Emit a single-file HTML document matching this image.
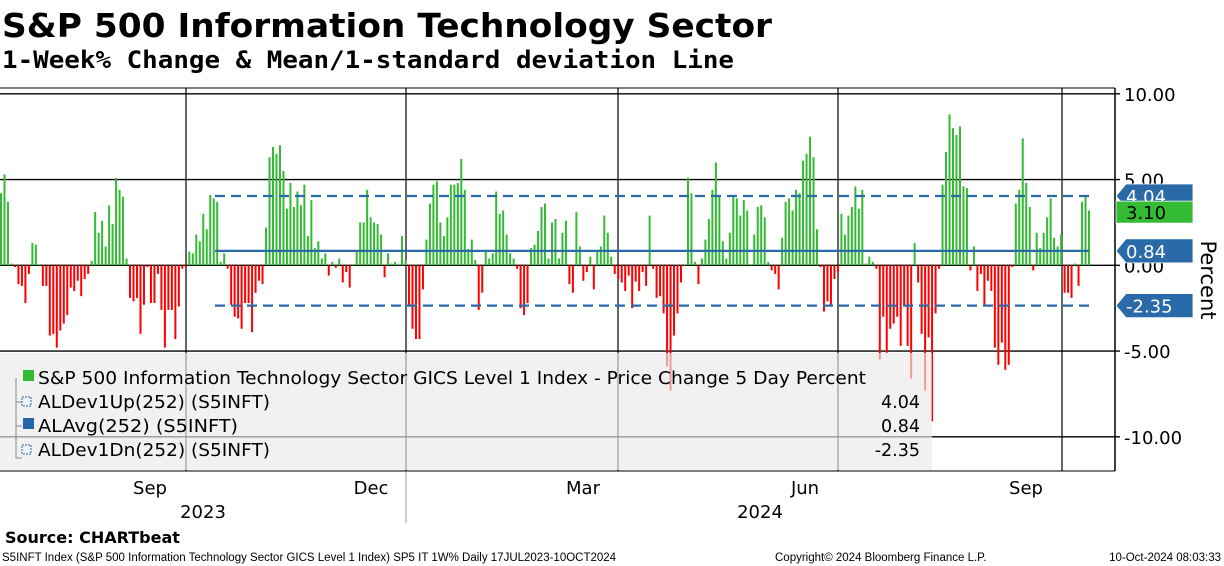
<!DOCTYPE html>
<html><head><meta charset="utf-8"><style>
html,body{margin:0;padding:0;background:#fff;}
svg{display:block;font-family:"DejaVu Sans","Liberation Sans",sans-serif;}
</style></head><body>
<svg id="chart" width="1224" height="566" viewBox="0 0 1224 566" xmlns="http://www.w3.org/2000/svg">
<text x="2" y="37" font-family="DejaVu Sans, sans-serif" font-weight="bold" font-size="33" textLength="770" lengthAdjust="spacingAndGlyphs">S&amp;P 500 Information Technology Sector</text>
<text x="2" y="68" font-family="DejaVu Sans Mono, monospace" font-weight="bold" font-size="24" textLength="732" lengthAdjust="spacingAndGlyphs">1-Week% Change &amp; Mean/1-standard deviation Line</text>
<g id="grid"></g>
<g id="bars"></g>
<g id="legend">
  <rect x="0" y="353" width="932" height="117" fill="#e9e9e9" fill-opacity="0.65"/>
  <rect x="23" y="370" width="11" height="11" fill="#33bb33"/>
  <text x="38" y="384" font-size="17.5" textLength="828" lengthAdjust="spacingAndGlyphs">S&amp;P 500 Information Technology Sector GICS Level 1 Index - Price Change 5 Day Percent</text>
  <text x="38" y="408" font-size="17.5" textLength="232" lengthAdjust="spacingAndGlyphs">ALDev1Up(252) (S5INFT)</text>
  <text x="920" y="408" font-size="17.5" text-anchor="end">4.04</text>
  <rect x="23" y="418" width="11" height="11" fill="#2266aa"/>
  <text x="38" y="432" font-size="17.5" textLength="200" lengthAdjust="spacingAndGlyphs">ALAvg(252) (S5INFT)</text>
  <text x="920" y="432" font-size="17.5" text-anchor="end">0.84</text>
  <text x="38" y="456" font-size="17.5" textLength="232" lengthAdjust="spacingAndGlyphs">ALDev1Dn(252) (S5INFT)</text>
  <text x="920" y="456" font-size="17.5" text-anchor="end">-2.35</text>
  <path d="M16 378 V458 H22 M16 402 H22 M16 426 H22" stroke="#888" fill="none" stroke-width="1"/>
  <rect x="22" y="397" width="9" height="9" fill="none" stroke="#2266aa" stroke-dasharray="2,1"/>
  <rect x="22" y="445" width="9" height="9" fill="none" stroke="#2266aa" stroke-dasharray="2,1"/>
</g>
<g id="axis"></g>
<g id="xaxis" font-size="18">
  <text x="150" y="494" text-anchor="middle">Sep</text>
  <text x="371" y="494" text-anchor="middle">Dec</text>
  <text x="583" y="494" text-anchor="middle">Mar</text>
  <text x="805" y="494" text-anchor="middle">Jun</text>
  <text x="1026" y="494" text-anchor="middle">Sep</text>
  <text x="203" y="518" text-anchor="middle">2023</text>
  <text x="760" y="518" text-anchor="middle">2024</text>
  <line x1="406" y1="472" x2="406" y2="523" stroke="#999"/>
</g>
<text transform="translate(1201,280) rotate(90)" font-size="21" text-anchor="middle">Percent</text>
<text x="5" y="543" font-family="DejaVu Sans, sans-serif" font-weight="bold" font-size="16">Source: CHARTbeat</text>
<text x="2" y="561" font-family="Liberation Sans, sans-serif" font-size="11.5">S5INFT Index (S&amp;P 500 Information Technology Sector GICS Level 1 Index) SP5 IT 1W%  Daily 17JUL2023-10OCT2024</text>
<text x="775" y="561" font-family="Liberation Sans, sans-serif" font-size="11.5">Copyright© 2024 Bloomberg Finance L.P.</text>
<text x="1221" y="561" font-family="Liberation Sans, sans-serif" font-size="11.5" text-anchor="end">10-Oct-2024 08:03:33</text>
</svg>
<script>
const weeklyChange = [4.2,5.3,3.7,0.1,-0.1,-1.1,-1.2,-2.2,-0.5,1.3,1.2,0.05,-1.2,-1.2,-4.1,-4.0,-4.8,-3.8,-3.4,-2.9,-1.3,-1.5,-0.9,-1.8,-0.8,-0.5,0.25,3.1,1.9,2.6,1.1,3.5,2.4,5.1,4.4,4.0,0.4,-1.9,-2.1,-1.9,-4.0,-2.3,-0.1,-2.2,-2.2,-0.5,-2.6,-4.8,-2.6,-2.6,-4.3,-2.4,-0.2,-0.1,
0.8,0.7,1.8,1.4,3.0,2.1,4.1,3.9,3.7,0.2,0.7,-0.2,-2.3,-3.0,-3.1,-3.7,-2.2,-2.2,-3.9,-1.6,-0.9,-1.1,2.2,6.3,6.9,6.5,7.0,5.5,3.3,4.8,3.4,4.3,3.5,4.7,1.7,3.8,1.0,1.4,0.4,0.7,-0.6,0.2,-0.15,0.4,-1.0,-0.4,-1.3,0,0.8,2.5,2.5,4.4,
2.8,2.5,2.4,1.8,-0.7,0.7,0.1,0.2,0,1.7,0.3,-2.4,-3.7,-4.3,-4.3,-1.4,1.5,3.6,4.7,4.9,2.5,1.7,2.8,4.7,4.7,4.8,6.2,4.4,0.95,1.5,0.3,-2.6,-1.6,0.8,0.4,0.7,4.3,3.0,3.2,1.8,0.7,0.4,-0.2,-2.5,-2.9,-2.2,1.0,1.2,2.0,3.4,3.6,0.4,2.5,2.7,
0.4,1.9,2.6,-1.1,-1.6,3.1,1.1,-0.9,-0.4,0.5,-1.4,0.8,1.1,2.9,1.9,0.5,-0.5,-0.8,-1.0,-1.5,-0.6,-2.5,-0.95,-1.5,-0.4,-1.2,2.9,-0.2,-1.9,-1.8,-2.8,-5.9,-7.3,-4.1,-2.8,-1.0,0,5.1,4.2,0.2,-1.1,0.4,1.5,2.7,4.4,6.0,4.0,1.4,0.4,1.9,4.0,3.9,2.9,
3.8,3.2,0,1.8,3.4,3.5,2.8,0.2,-0.3,-0.5,-1.4,1.6,3.7,3.9,3.2,4.4,4.2,6.1,6.5,7.5,6.3,2.1,-0.1,-2.7,-2.1,-2.3,-0.8,-0.4,3.0,1.8,2.9,3.4,4.6,3.3,4.4,0.1,0.5,0.2,-0.2,-5.5,-3.0,-5.1,-3.7,-3.4,-3.0,-4.7,-2.4,-4.7,-6.6,1.3,-1.0,-4.0,-7.3,
-4.2,-9.1,-2.8,-0.2,4.7,6.6,8.8,8.0,7.6,8.1,4.6,4.5,-0.3,1.1,-1.5,-0.5,-2.3,-0.9,-1.5,-4.8,-5.8,-4.5,-6.1,-5.8,-0.1,3.6,4.4,7.4,4.8,3.4,-0.3,1.9,1.0,1.9,2.8,3.9,1.6,1.1,1.8,-1.6,-1.6,-1.9,0.1,-1.2,3.7,4.0,3.2];
const yTicks = [10, 5, 0, -5, -10];
const yTickLabels = ["10.00","5.00","0.00","-5.00","-10.00"];
const devUp = 4.04, avgLine = 0.84, devDn = -2.35, lastValue = 3.10;

const NS = "http://www.w3.org/2000/svg";
const X0 = 1, X1 = 1089;
const y = v => 265.3 - v * 17.15;
const x = i => X0 + i * (X1 - X0) / (weeklyChange.length - 1);
function mk(tag, attrs, parent) { const e = document.createElementNS(NS, tag); for (const k in attrs) e.setAttribute(k, attrs[k]); parent.appendChild(e); return e; }

const grid = document.getElementById('grid');
mk('line', {x1:0,y1:88,x2:1115,y2:88,stroke:'#000','stroke-width':1}, grid);
mk('line', {x1:0,y1:471,x2:1115,y2:471,stroke:'#555','stroke-width':1.5}, grid);
mk('line', {x1:1115,y1:88,x2:1115,y2:471,stroke:'#000','stroke-width':1.5}, grid);
yTicks.forEach(t => {
  const l = mk('line', {x1:0,y1:y(t),x2:1120,y2:y(t),stroke:'#000','stroke-width':1.3}, grid);
  
  
});
[186, 406, 618, 838, 1062].forEach(gx => {
  const l = mk('line', {x1:gx,y1:88,x2:gx,y2:471,stroke:'#000','stroke-width':1.2}, grid);
  
  
});

const bars = document.getElementById('bars');
weeklyChange.forEach((v, i) => {
  const top = Math.min(y(v), y(0)), h = Math.max(Math.abs(y(v) - y(0)), 0.5);
  const r = mk('rect', {x: x(i) - 1, y: top, width: 2, height: h, fill: v >= 0 ? '#33bb33' : '#ff0000'}, bars);
  
  
});
const bx0 = 215, bx1 = 1089;
const du = mk('line', {x1:bx0,y1:y(devUp),x2:bx1,y2:y(devUp),stroke:'#2a6aa8','stroke-width':2.2,'stroke-dasharray':'10,6'}, bars);


const dd = mk('line', {x1:bx0,y1:y(devDn),x2:bx1,y2:y(devDn),stroke:'#2a6aa8','stroke-width':2.2,'stroke-dasharray':'10,6'}, bars);


const av = mk('line', {x1:bx0,y1:y(avgLine),x2:bx1,y2:y(avgLine),stroke:'#2a6aa8','stroke-width':2.2}, bars);



const axis = document.getElementById('axis');
yTicks.forEach((t, i) => {
  const tx = mk('text', {x: 1124, y: y(t) + 7, 'font-size': 18}, axis);
  tx.textContent = yTickLabels[i];
  
  
});
function tag(v, color, name, arrow) {
  const cy = y(v);
  const g = mk('g', {}, axis);
  
  
  const d = arrow ? `M1116 ${cy} L1126 ${cy-12} H1193 V${cy+12} H1126 Z` : `M1116 ${cy-11} H1193 V${cy+11} H1116 Z`;
  mk('path', {d, fill: color, stroke: '#fff', 'stroke-width': 0.8}, g);
  const t = mk('text', {x: 1126, y: cy + 7, 'font-size': 18, fill: color === '#33bb33' ? '#000' : '#fff'}, g);
  t.textContent = v.toFixed(2);
}
tag(devUp, '#2a6aa8', 'tag-dev-up', true);
tag(lastValue, '#33bb33', 'tag-last-value', false);
tag(avgLine, '#2a6aa8', 'tag-mean', true);
tag(devDn, '#2a6aa8', 'tag-dev-down', true);
const svg = document.getElementById('chart');
svg.insertBefore(document.getElementById('legend'), document.getElementById('axis'));
</script>
</body></html>
